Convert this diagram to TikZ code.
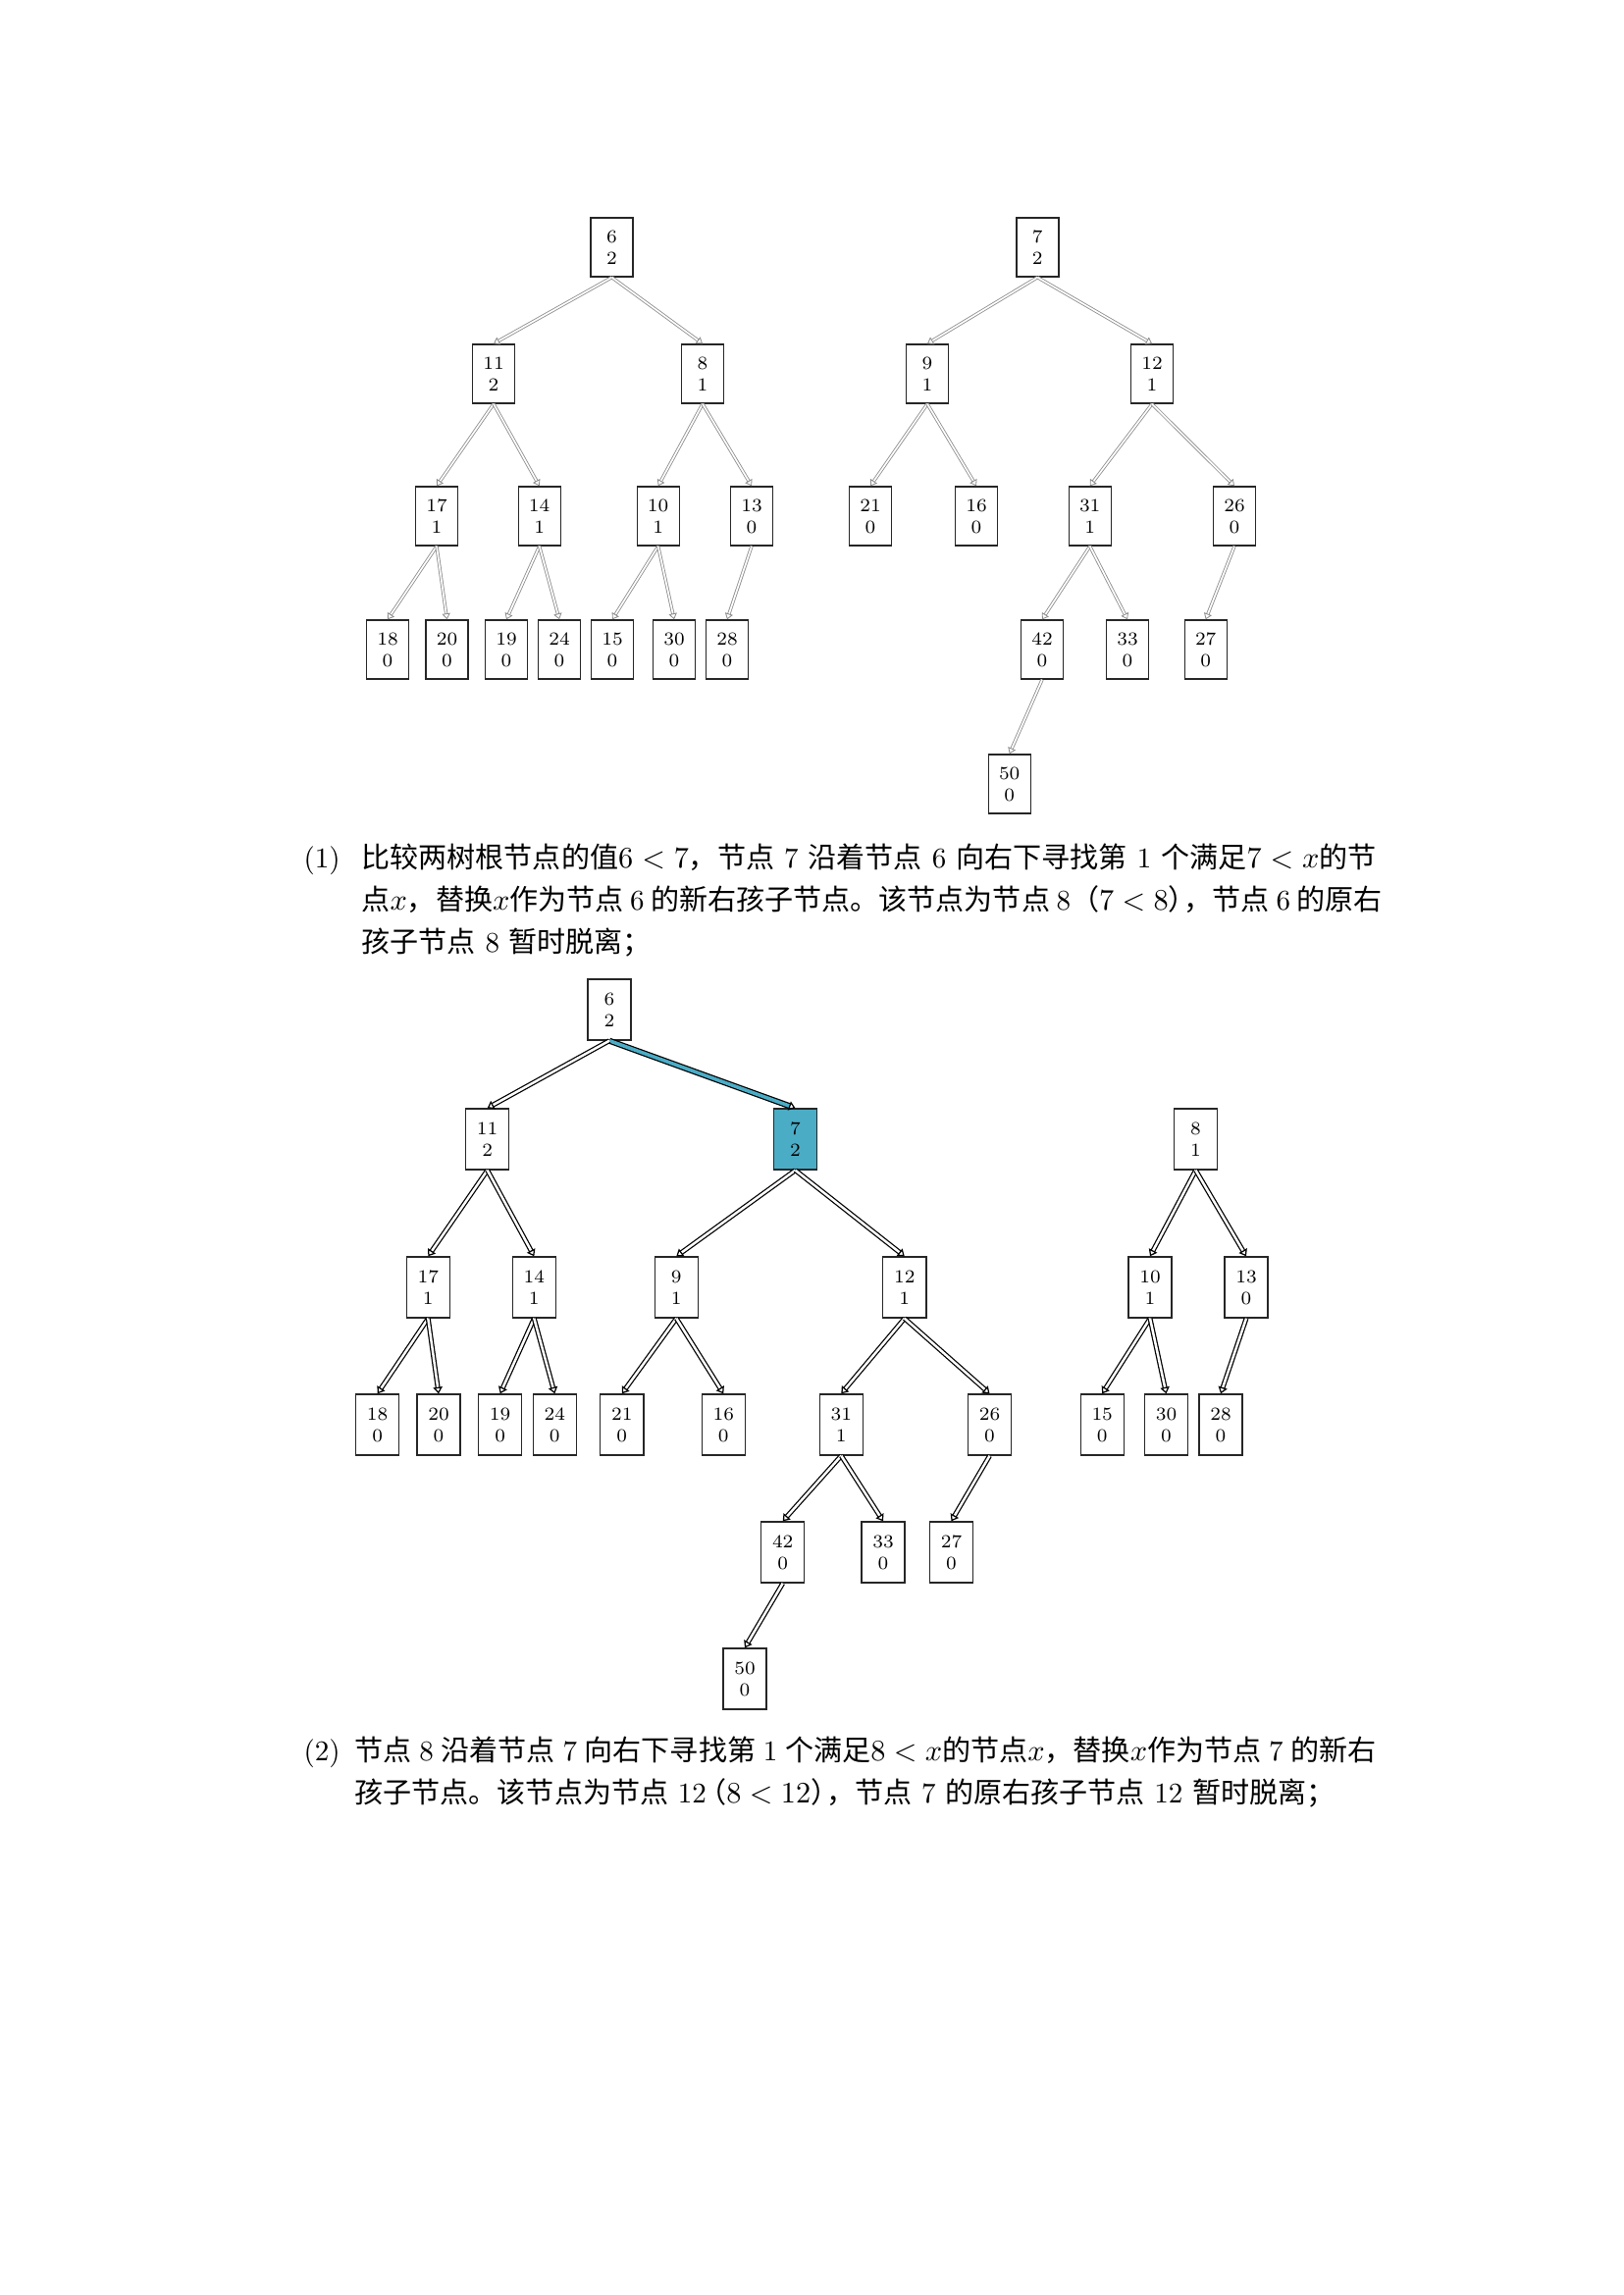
\documentclass[tikz,border=0pt]{standalone}
\usepackage{fontspec}
\newfontfamily\cjk{Noto Sans CJK SC}
\usetikzlibrary{arrows.meta}
\definecolor{tealA}{HTML}{4BACC6}
\newcommand\zh[1]{{\cjk #1}}
\newcommand\rpcomma{\zh{）}\kern-0.45em\zh{，}}
\newcommand\lparc{\kern-0.3em\zh{（}}
\XeTeXlinebreaklocale "zh"
\XeTeXlinebreakskip=0pt plus 1pt minus 0.2pt
\begin{document}
\begin{tikzpicture}[x=0.12697mm,y=-0.12697mm,
  tbox/.style={draw=black!85, line width=0.5pt, fill=white, inner sep=0pt,
    minimum width=5.46mm, minimum height=7.62mm, align=center,
    font=\fontsize{6.8pt}{7.9pt}\selectfont},
  bbox/.style={tbox, minimum width=5.59mm, minimum height=7.87mm},
  topedge/.style={draw=black!45, line width=0.3pt, double=white, double distance=0.6pt,
    -{Triangle[open,length=2.2pt,width=3pt]}},
  botedge/.style={draw=black, line width=0.45pt, double=white, double distance=0.9pt,
    -{Triangle[open,length=2.4pt,width=3.4pt]}},
  hiedge/.style={botedge, double=tealA, double distance=1.3pt},
  txt/.style={anchor=base west, inner sep=0pt, font=\fontsize{10.5pt}{15pt}\selectfont}]
\useasboundingbox (0,0) rectangle (1654,2339);

% ---------- top: tree 1 ----------
\node[tbox] (t6)  at (623.5,252) {6\\2};
\node[tbox] (t11) at (503,381) {11\\2};
\node[tbox] (t8)  at (716,381) {8\\1};
\node[tbox] (t17) at (445,526) {17\\1};
\node[tbox] (t14) at (549.7,526) {14\\1};
\node[tbox] (t10) at (670.7,526) {10\\1};
\node[tbox] (t13) at (766,526) {13\\0};
\node[tbox] (t18) at (395,662) {18\\0};
\node[tbox] (t20) at (455.5,662) {20\\0};
\node[tbox] (t19) at (516,662) {19\\0};
\node[tbox] (t24) at (570,662) {24\\0};
\node[tbox] (t15) at (624,662) {15\\0};
\node[tbox] (t30) at (687,662) {30\\0};
\node[tbox] (t28) at (741,662) {28\\0};
% ---------- top: tree 2 ----------
\node[tbox] (u7)  at (1057.3,252) {7\\2};
\node[tbox] (u9)  at (945,381) {9\\1};
\node[tbox] (u12) at (1174,381) {12\\1};
\node[tbox] (u21) at (887,526) {21\\0};
\node[tbox] (u16) at (995,526) {16\\0};
\node[tbox] (u31) at (1110.7,526) {31\\1};
\node[tbox] (u26) at (1258,526) {26\\0};
\node[tbox] (u42) at (1062,662) {42\\0};
\node[tbox] (u33) at (1149,662) {33\\0};
\node[tbox] (u27) at (1228.7,662) {27\\0};
\node[tbox] (u50) at (1028.7,799) {50\\0};

\foreach \a/\b in {t6/t11,t6/t8,t11/t17,t11/t14,t8/t10,t8/t13,t17/t18,t17/t20,
  t14/t19,t14/t24,t10/t15,t10/t30,t13/t28,
  u7/u9,u7/u12,u9/u21,u9/u16,u12/u31,u12/u26,u31/u42,u31/u33,u26/u27,u42/u50}
  \draw[topedge] (\a.south) -- (\b.north);

% ---------- caption 1 ----------
\node[txt] (c1l) at (309,884) {(1)};
\node[txt] (c1a) at (368,884) {\hbox to 131.29mm{\zh{比较两树根节点的值}$6<7$\zh{，节点} 7 \zh{沿着节点} 6 \zh{向右下寻找第} 1 \zh{个满足}$7<x$\zh{的节}}};
\node[txt] (c1b) at (368,927) {\hbox to 131.29mm{\zh{点}$x$\zh{，替换}$x$\zh{作为节点} 6 \zh{的新右孩子节点。该节点为节点} 8\zh{（}$7<8$\rpcomma\zh{节点} 6 \zh{的原右}}};
\node[txt] (c1c) at (368,970) {\zh{孩子节点} 8 \zh{暂时脱离；}};

% ---------- bottom: merged tree ----------
\node[bbox] (b6)  at (621,1029) {6\\2};
\node[bbox] (b11) at (496.7,1161) {11\\2};
\node[bbox, fill=tealA] (b7) at (810.5,1161) {7\\2};
\node[bbox] (b17) at (436.3,1312) {17\\1};
\node[bbox] (b14) at (544.3,1312) {14\\1};
\node[bbox] (b9)  at (689.3,1312) {9\\1};
\node[bbox] (b12) at (921.8,1312) {12\\1};
\node[bbox] (b18) at (384.7,1452) {18\\0};
\node[bbox] (b20) at (447,1452) {20\\0};
\node[bbox] (b19) at (509.7,1452) {19\\0};
\node[bbox] (b24) at (565.3,1452) {24\\0};
\node[bbox] (b21) at (633.8,1452) {21\\0};
\node[bbox] (b16) at (737.3,1452) {16\\0};
\node[bbox] (b31) at (857.3,1452) {31\\1};
\node[bbox] (b26) at (1008.5,1452) {26\\0};
\node[bbox] (b42) at (797.7,1582) {42\\0};
\node[bbox] (b33) at (900,1582) {33\\0};
\node[bbox] (b27) at (969.5,1582) {27\\0};
\node[bbox] (b50) at (759,1711) {50\\0};
% detached tree
\node[bbox] (d8)  at (1218.5,1161) {8\\1};
\node[bbox] (d10) at (1172,1312) {10\\1};
\node[bbox] (d13) at (1270,1312) {13\\0};
\node[bbox] (d15) at (1123.2,1452) {15\\0};
\node[bbox] (d30) at (1188.5,1452) {30\\0};
\node[bbox] (d28) at (1244,1452) {28\\0};

\draw[hiedge] (b6.south) -- (b7.north);
\foreach \a/\b in {b6/b11,b11/b17,b11/b14,b17/b18,b17/b20,b14/b19,b14/b24,
  b7/b9,b7/b12,b9/b21,b9/b16,b12/b31,b12/b26,b31/b42,b31/b33,b26/b27,b42/b50,
  d8/d10,d8/d13,d10/d15,d10/d30,d13/d28}
  \draw[botedge] (\a.south) -- (\b.north);

% ---------- caption 2 ----------
\node[txt] (c2l) at (309,1794) {(2)};
\node[txt] (c2a) at (361,1794) {\hbox to 132.18mm{\zh{节点} 8 \zh{沿着节点} 7 \zh{向右下寻找第} 1 \zh{个满足}$8<x$\zh{的节点}$x$\zh{，替换}$x$\zh{作为节点} 7 \zh{的新右}}};
\node[txt] (c2b) at (361,1837) {\zh{孩子节点。该节点为节点} 12\lparc$8<12$\rpcomma\zh{节点} 7 \zh{的原右孩子节点} 12 \zh{暂时脱离；}};
\end{tikzpicture}
\end{document}
